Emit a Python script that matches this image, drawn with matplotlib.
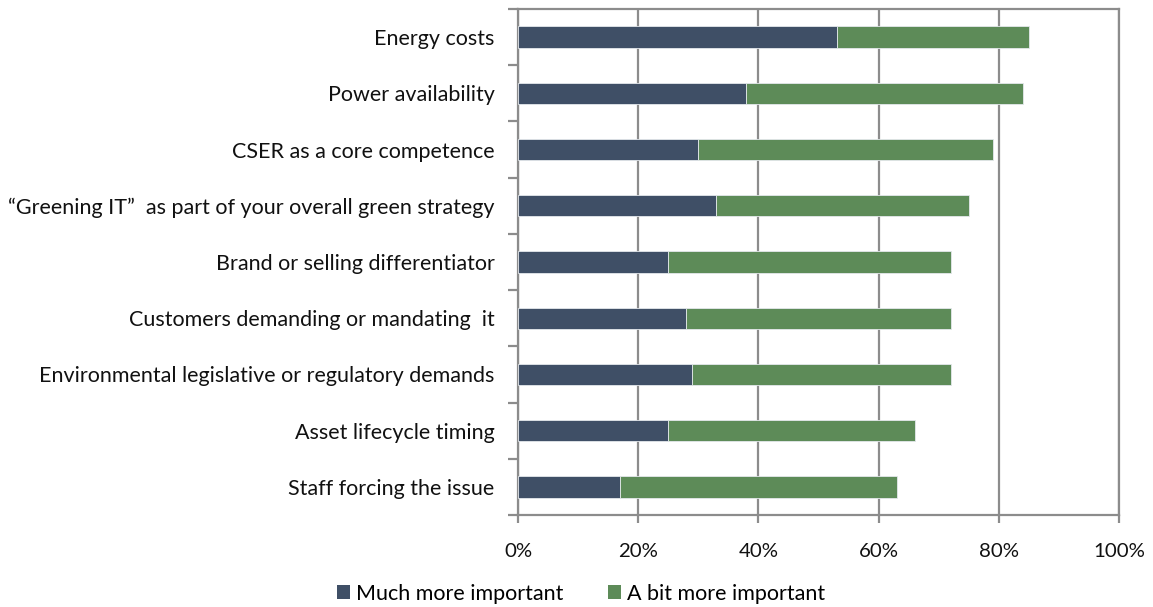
import matplotlib
matplotlib.use("Agg")
import matplotlib.pyplot as plt
from matplotlib.ticker import FixedLocator, PercentFormatter
from matplotlib.patches import Patch

categories = [
    "Energy costs",
    "Power availability",
    "CSER as a core competence",
    "\u201cGreening IT\u201d  as part of your overall green strategy",
    "Brand or selling differentiator",
    "Customers demanding or mandating  it",
    "Environmental legislative or regulatory demands",
    "Asset lifecycle timing",
    "Staff forcing the issue",
]
much_more = [53, 38, 30, 33, 25, 28, 29, 25, 17]
bit_more = [32, 46, 49, 42, 47, 44, 43, 41, 46]
series_names = ["Much more important", "A bit more important"]
x_ticks = [0, 20, 40, 60, 80, 100]

DARK = "#3F4F66"
GREEN = "#5D8B58"
GRID = "#8C8C8C"

plt.rcParams["font.family"] = ["Lato", "DejaVu Sans"]

fig = plt.figure(figsize=(11.53, 6.07), dpi=100)
ax = fig.add_axes([0.4493, 0.1516, 0.9705 - 0.4493, 0.9852 - 0.1516])

y = list(range(len(categories)))
h = 0.38
ax.barh(y, much_more, height=h, color=DARK, edgecolor="#E4E8EC", linewidth=0.6, zorder=3)
ax.barh(y, bit_more, left=much_more, height=h, color=GREEN, edgecolor="#E4E8EC",
        linewidth=0.6, zorder=3)

ax.set_xlim(0, 100)
ax.set_ylim(len(categories) - 0.5, -0.5)

ax.set_yticks(y)
ax.set_yticklabels(categories, fontsize=15.5, color="#111111")
ax.yaxis.set_minor_locator(FixedLocator([i - 0.5 for i in range(len(categories) + 1)]))
ax.tick_params(axis="y", which="major", length=0, pad=17)
ax.tick_params(axis="y", which="minor", length=7, width=1.6, color=GRID)

ax.set_xticks(x_ticks)
ax.xaxis.set_major_formatter(PercentFormatter(decimals=0))
ax.tick_params(axis="x", which="major", length=6, width=1.6, color=GRID,
               labelsize=14.7, labelcolor="#111111", pad=14)

ax.grid(axis="x", color=GRID, linewidth=1.6, zorder=0)
for s in ax.spines.values():
    s.set_color(GRID)
    s.set_linewidth(1.6)

handles = [Patch(facecolor=DARK, edgecolor="none"), Patch(facecolor=GREEN, edgecolor="none")]
fig.legend(handles, series_names, loc="center", bbox_to_anchor=(0.504, 0.022), ncol=2,
           frameon=False, fontsize=15.5, handlelength=0.6, handleheight=0.6,
           handletextpad=0.25, columnspacing=2.1, borderpad=0.1)

fig.savefig("out.png", dpi=100)
